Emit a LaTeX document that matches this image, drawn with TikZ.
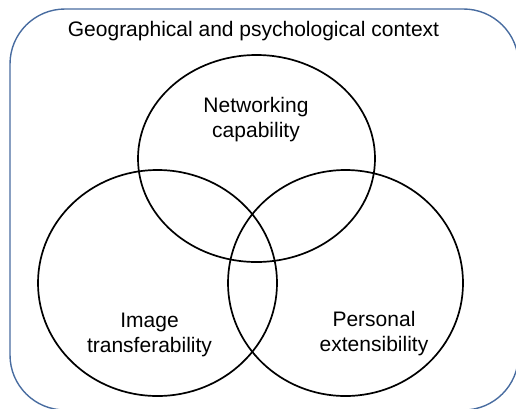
\documentclass[tikz,border=0pt]{standalone}
\usepackage{fontspec}
\setmainfont{Liberation Sans}
\usetikzlibrary{shapes}
\definecolor{ctx_blue}{RGB}{72, 108, 160}
\tikzstyle{ctx}=[draw=ctx_blue,line width=1.4pt,rounded corners=55pt]
\tikzstyle{dim}=[ellipse,draw=black,line width=1.7pt,inner sep=0pt]
\tikzstyle{lbl}=[align=center,font=\fontsize{21}{25}\selectfont,inner sep=0pt]

\begin{document}
\begin{tikzpicture}[x=1pt,y=-1pt]
    \useasboundingbox (0,0) rectangle (516,408);
    \clip (0,0) rectangle (516,408);
    \draw [style=ctx] (10,9) rectangle (518.5,410);
    \node [style=lbl] (ctx) at (253.5,31) {Geographical and psychological context};
    \node [style=dim,minimum width=237pt,minimum height=207pt] (net) at (256.5,158.5) {};
    \node [style=dim,minimum width=239pt,minimum height=226pt] (img) at (157.5,283) {};
    \node [style=dim,minimum width=235pt,minimum height=226pt] (per) at (345.5,283) {};
    \node [style=lbl] (netl) at (256,120) {Networking\\capability};
    \node [style=lbl] (imgl) at (149.5,335) {Image\\transferability};
    \node [style=lbl] (perl) at (374,334) {Personal\\extensibility};
  \end{tikzpicture}
\end{document}
